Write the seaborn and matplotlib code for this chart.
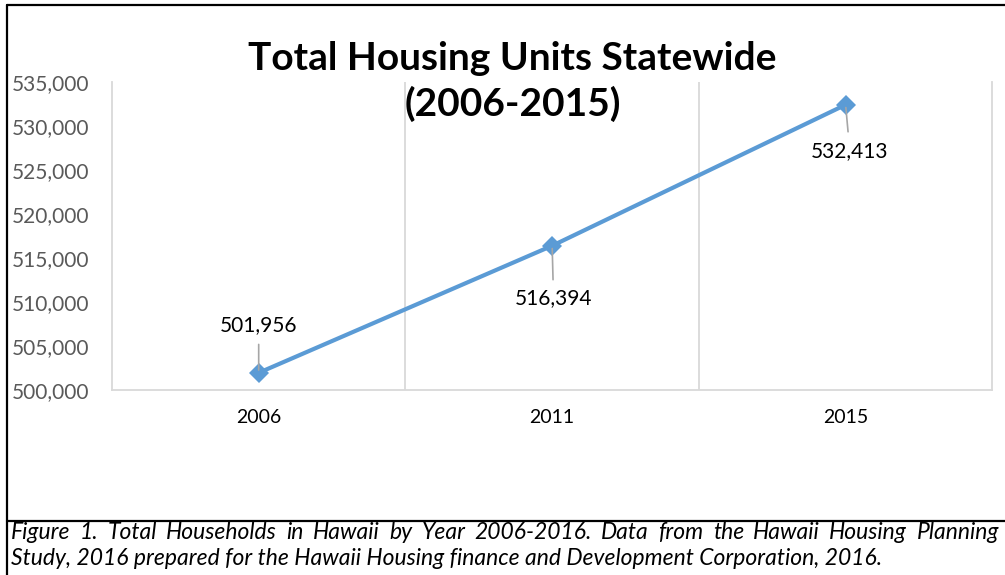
import pandas as pd
import matplotlib.pyplot as plt
import seaborn as sns
from matplotlib.lines import Line2D
from matplotlib.ticker import FuncFormatter

# data
years = ['2006', '2011', '2015']
units = [501956, 516394, 532413]
label_offsets = [(0, 34), (1, -38), (3, -33)]  # points, for data labels
caption_1 = ("Figure 1. Total Households in Hawaii by Year 2006-2016. Data from the "
             "Hawaii Housing Planning")
caption_2 = ("Study, 2016 prepared for the Hawaii Housing finance and Development "
             "Corporation, 2016.")

df = pd.DataFrame({'Year': years, 'Units': units})

sns.set_theme(style="white")
plt.rcParams['font.family'] = ['Lato', 'DejaVu Sans']
plt.rcParams['text.color'] = 'black'

fig = plt.figure(figsize=(10.05, 5.75), dpi=100)
ax = fig.add_axes([0.1114, 0.3217, 0.876, 0.5357])

sns.lineplot(data=df, x='Year', y='Units', marker='D', markersize=10,
             color='#5B9BD5', linewidth=3.0, markeredgewidth=0, ax=ax)

ax.set_xlim(-0.5, 2.5)
ax.set_ylim(500000, 535000)
ax.set_yticks(range(500000, 535001, 5000))
ax.yaxis.set_major_formatter(FuncFormatter(lambda v, p: f'{int(v):,}'))
ax.set_xticks(range(len(years)))
ax.set_xticklabels(years)
ax.set_xticks([0.5, 1.5], minor=True)
ax.grid(which='minor', axis='x', color='#d9d9d9', linewidth=1.3)
ax.grid(which='major', visible=False)
ax.tick_params(axis='y', length=0, pad=16, labelsize=15, labelcolor='#595959')
ax.tick_params(axis='x', length=0, pad=14, labelsize=14, labelcolor='black')
ax.tick_params(which='minor', length=0)
ax.set_xlabel('')
ax.set_ylabel('')
for s in ['left', 'right', 'bottom']:
    ax.spines[s].set_color('#d9d9d9')
    ax.spines[s].set_linewidth(1.3)
ax.spines['top'].set_visible(False)

# data labels with leader lines
for i, (v, off) in enumerate(zip(units, label_offsets)):
    ax.annotate(f'{v:,}', xy=(i, v), xytext=off, textcoords='offset points',
                ha='center', va='center', fontsize=15, color='black',
                arrowprops=dict(arrowstyle='-', color='#a6a6a6', lw=1.2,
                                shrinkA=4, shrinkB=2))

# title
fig.text(0.510, 0.858, 'Total Housing Units Statewide\n(2006-2015)',
         ha='center', va='center', fontsize=28, fontweight='bold',
         color='black', linespacing=1.32)

# frame lines
fig.add_artist(Line2D([7 / 1005, 7 / 1005], [0, 1 - 5 / 575], color='black', lw=1.6))
fig.add_artist(Line2D([7 / 1005, 1], [1 - 5 / 575, 1 - 5 / 575], color='black', lw=1.6))
fig.add_artist(Line2D([7 / 1005, 1], [1 - 521 / 575, 1 - 521 / 575], color='black', lw=1.6))

# caption, first line justified
renderer = fig.canvas.get_renderer()
cap_kw = dict(fontsize=16.5, style='italic', color='black', va='baseline')
words = caption_1.split(' ')
texts = [fig.text(0, 1 - 539 / 575, w, ha='left', **cap_kw) for w in words]
widths = [t.get_window_extent(renderer).width for t in texts]
x0, x1 = 11, 999
gap = (x1 - x0 - sum(widths)) / (len(words) - 1)
x = x0
for t, w in zip(texts, widths):
    t.set_x(x / 1005)
    x += w + gap
fig.text(11 / 1005, 1 - 565 / 575, caption_2, ha='left', **cap_kw)

fig.savefig('out.png', dpi=100)
